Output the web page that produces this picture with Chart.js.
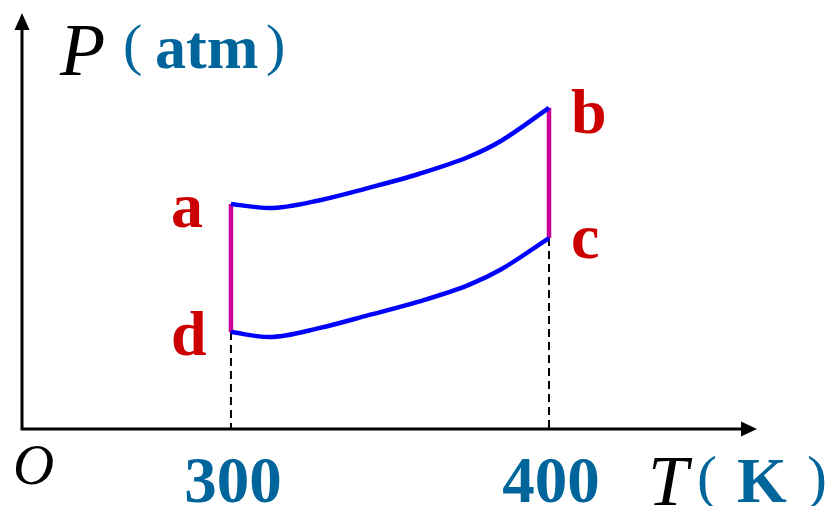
<!DOCTYPE html>
<html>
<head>
<meta charset="utf-8">
<script src="https://cdn.jsdelivr.net/npm/chart.js@4"></script>
<style>
  body { margin: 0; background: #fff; }
  #wrap { width: 829px; height: 506px; }
</style>
</head>
<body>
<div id="wrap"><canvas id="chart"></canvas></div>
<script>
// T values (K) sampled along the curves
const temps = [300, 312, 328, 343, 359, 375, 385, 400];
// upper curve a -> b (P, arbitrary atm units)
const upperP = [5.41, 5.31, 5.50, 5.79, 6.13, 6.55, 6.93, 7.72];
// lower curve d -> c
const lowerP = [2.33, 2.21, 2.43, 2.73, 3.06, 3.47, 3.84, 4.59];
const tickLabels = [300, 400];
const pointNames = ['a', 'b', 'c', 'd'];

const BLUE_TEXT = '#00659b';
const RED = '#cc0000';

const toXY = (xs, ys) => xs.map((x, i) => ({ x: x, y: ys[i] }));
const last = temps.length - 1;
const ptA = { x: temps[0], y: upperP[0] };
const ptB = { x: temps[last], y: upperP[last] };
const ptC = { x: temps[last], y: lowerP[last] };
const ptD = { x: temps[0], y: lowerP[0] };

// axes, arrows and all the text
const decorPlugin = {
    id: 'decor',
    beforeDatasetsDraw(chart) {
        const { ctx, chartArea: area } = chart;
        const x0 = area.left, y0 = area.bottom;
        ctx.save();
        ctx.strokeStyle = '#000';
        ctx.fillStyle = '#000';
        ctx.lineWidth = 3;
        ctx.beginPath();
        ctx.moveTo(x0, y0 + 1.5);
        ctx.lineTo(x0, area.top + 16);
        ctx.moveTo(x0 - 1.5, y0);
        ctx.lineTo(area.right - 15, y0);
        ctx.stroke();
        // arrow heads
        ctx.beginPath();
        ctx.moveTo(x0, area.top);
        ctx.lineTo(x0 - 7.5, area.top + 17);
        ctx.lineTo(x0 + 7.5, area.top + 17);
        ctx.closePath();
        ctx.fill();
        ctx.beginPath();
        ctx.moveTo(area.right, y0);
        ctx.lineTo(area.right - 16, y0 - 7.5);
        ctx.lineTo(area.right - 16, y0 + 7.5);
        ctx.closePath();
        ctx.fill();
        ctx.restore();
    },
    afterDraw(chart) {
        const { ctx, scales } = chart;
        const xs = scales.x, ys = scales.y;
        ctx.save();
        ctx.textBaseline = 'alphabetic';
        ctx.textAlign = 'left';

        // P (atm)
        ctx.fillStyle = '#000';
        ctx.font = 'italic 74px "Liberation Serif"';
        ctx.fillText('P', 60, 75);
        ctx.fillStyle = BLUE_TEXT;
        ctx.font = '58px "Liberation Serif"';
        ctx.fillText('(', 123, 64);
        ctx.font = 'bold 62px "Liberation Serif"';
        ctx.fillText('atm', 155, 68);
        ctx.font = '58px "Liberation Serif"';
        ctx.fillText(')', 266, 64);

        // origin
        ctx.fillStyle = '#000';
        ctx.font = 'italic 57px "Liberation Serif"';
        ctx.fillText('O', 13, 484);

        // tick labels
        ctx.fillStyle = BLUE_TEXT;
        ctx.font = 'bold 65px "Liberation Serif"';
        ctx.textAlign = 'center';
        tickLabels.forEach(t => {
            ctx.fillText(String(t), xs.getPixelForValue(t) + 2, 502);
        });

        // T (K)
        ctx.textAlign = 'left';
        ctx.fillStyle = '#000';
        ctx.font = 'italic 72px "Liberation Serif"';
        ctx.fillText('T', 648, 505);
        ctx.fillStyle = BLUE_TEXT;
        ctx.font = '60px "Liberation Serif"';
        ctx.fillText('(', 697, 497);
        ctx.font = 'bold 64px "Liberation Serif"';
        ctx.fillText('K', 737, 502);
        ctx.font = '60px "Liberation Serif"';
        ctx.fillText(')', 807, 497);

        // state labels
        ctx.fillStyle = RED;
        ctx.font = 'bold 64px "Liberation Serif"';
        const pts = { a: ptA, b: ptB, c: ptC, d: ptD };
        const offs = { a: [-60, 23], b: [22, 25], c: [22, 20], d: [-60, 23] };
        pointNames.forEach(n => {
            const px = xs.getPixelForValue(pts[n].x);
            const py = ys.getPixelForValue(pts[n].y);
            ctx.fillText(n, px + offs[n][0], py + offs[n][1]);
        });
        ctx.restore();
    }
};

const curveStyle = {
    borderColor: '#0000ff',
    borderWidth: 4.5,
    cubicInterpolationMode: 'monotone',
    pointRadius: 0,
    showLine: true,
    fill: false,
    clip: false
};
const isoStyle = {
    borderColor: '#cc0099',
    borderWidth: 4.5,
    tension: 0,
    pointRadius: 0,
    showLine: true,
    fill: false,
    clip: false
};
const dashStyle = {
    borderColor: '#000',
    borderWidth: 2,
    borderDash: [8, 5],
    pointRadius: 0,
    showLine: true,
    fill: false,
    clip: false
};

new Chart(document.getElementById('chart'), {
    type: 'scatter',
    plugins: [decorPlugin],
    data: {
        datasets: [
            { ...curveStyle, data: toXY(temps, upperP) },
            { ...curveStyle, data: toXY(temps, lowerP) },
            { ...isoStyle, data: [ptA, ptD] },
            { ...isoStyle, data: [ptB, ptC] },
            { ...dashStyle, data: [ptD, { x: ptD.x, y: 0 }] },
            { ...dashStyle, data: [ptC, { x: ptC.x, y: 0 }] }
        ]
    },
    options: {
        responsive: true,
        maintainAspectRatio: false,
        devicePixelRatio: 1,
        animation: false,
        layout: { padding: { left: 22, top: 13, right: 72, bottom: 77 } },
        scales: {
            x: { type: 'linear', min: 234.3, max: 465.4, display: false },
            y: { type: 'linear', min: 0, max: 10, display: false }
        },
        plugins: {
            legend: { display: false },
            tooltip: { enabled: false }
        }
    }
});
</script>
</body>
</html>
